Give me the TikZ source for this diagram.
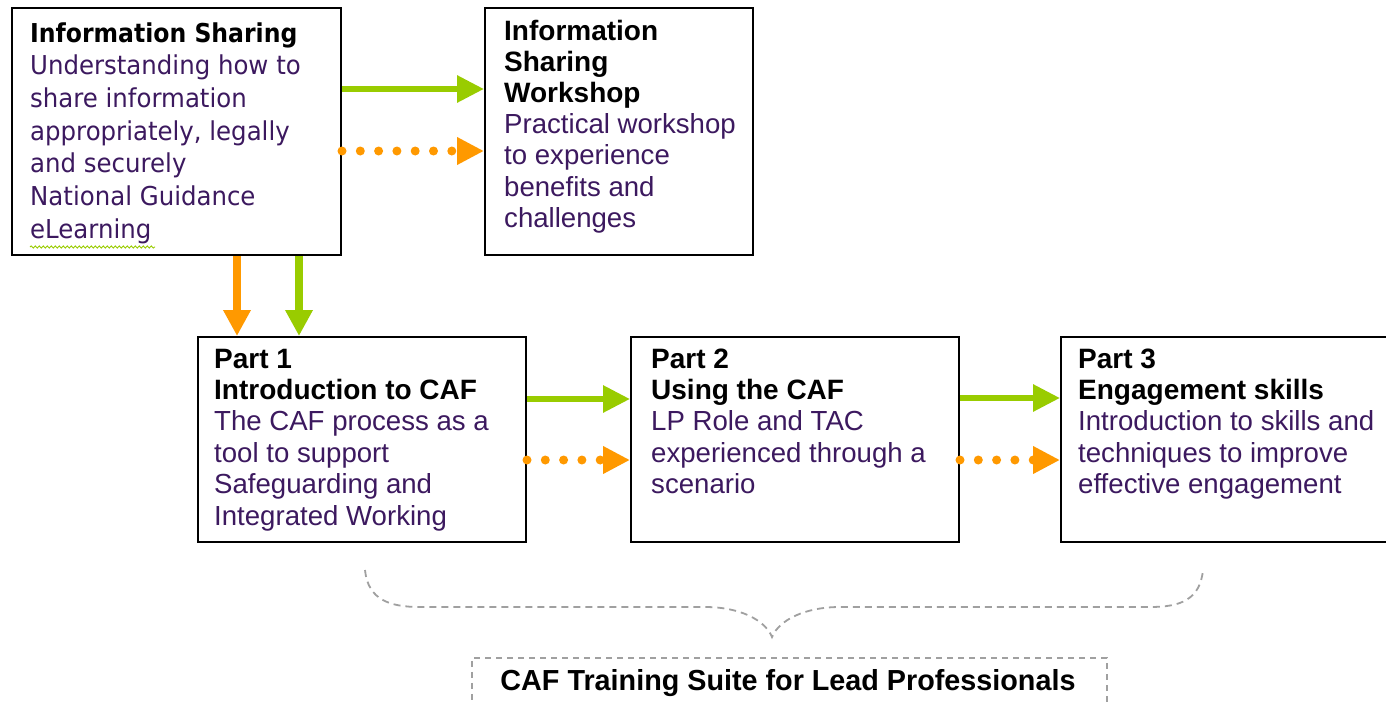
\documentclass[tikz,border=0pt]{standalone}
\usepackage{fontspec}
\setmainfont{Liberation Sans}
\newfontfamily\tahoma[FakeStretch=0.94,BoldFeatures={FakeStretch=0.905}]{DejaVu Sans}
\usetikzlibrary{arrows.meta,decorations.pathmorphing}
\definecolor{cafgreen}{RGB}{153,204,0}
\definecolor{caforange}{RGB}{255,153,0}
\definecolor{bodytxt}{RGB}{60,25,95}
\definecolor{bracegray}{RGB}{160,160,160}
\tikzset{
  box/.style={draw=black, line width=2pt, anchor=north west, inner sep=0pt},
  txt/.style={anchor=base west, inner sep=0pt},
  garrow/.style={draw=cafgreen, line width=6pt, -{Triangle[width=26pt,length=27pt,fill=cafgreen]}},
  gdown/.style={draw=cafgreen, line width=8pt, -{Triangle[width=26pt,length=26pt,fill=cafgreen]}},
  odown/.style={draw=caforange, line width=8pt, -{Triangle[width=26pt,length=26pt,fill=caforange]}},
  oarrow/.style={draw=caforange, line width=9pt, line cap=round, dash pattern=on 0pt off 18.3pt, -{Triangle[width=26pt,length=27pt,fill=caforange]}},
  graydash/.style={draw=bracegray, line width=1.8pt, dash pattern=on 7pt off 5pt},
}
\newcommand{\armed}{\fontsize{28}{31.4}\selectfont}
\newcommand{\armbody}{\fontsize{27.6}{31.4}\selectfont}
\begin{document}
\begin{tikzpicture}[x=1pt,y=-1pt]
\useasboundingbox (0,0) rectangle (1386,704);
\fill[white] (0,0) rectangle (1386,704);

% boxes
\node[box, minimum width=329pt, minimum height=247pt] (b1) at (11,7) {};
\node[box, minimum width=268pt, minimum height=247pt] (b2) at (484,7) {};
\node[box, minimum width=328pt, minimum height=205pt] (p1) at (197,336) {};
\node[box, minimum width=328pt, minimum height=205pt] (p2) at (630,336) {};
\node[box, minimum width=335pt, minimum height=205pt] (p3) at (1060,336) {};

% texts
\node[txt] (t1) at (30,42) {\parbox[t]{310pt}{\raggedright\tahoma\fontsize{26}{32.7}\selectfont
  \textbf{Information Sharing}\\
  \color{bodytxt}Understanding how to\\share information\\appropriately, legally\\and securely\\National Guidance\\eLearning}};
\node[txt] (t2) at (504,40) {\parbox[t]{250pt}{\raggedright\armed\baselineskip=31.2pt
  \textbf{Information\\Sharing\\Workshop}\\
  \armbody\baselineskip=31.2pt\color{bodytxt}Practical workshop\\to experience\\benefits and\\challenges}};
\node[txt] (tp1) at (214,368) {\parbox[t]{310pt}{\raggedright\armed
  \textbf{Part 1\\Introduction to CAF}\\
  \armbody\color{bodytxt}The CAF process as a\\tool to support\\Safeguarding and\\Integrated Working}};
\node[txt] (tp2) at (651,368) {\parbox[t]{310pt}{\raggedright\armed
  \textbf{Part 2\\Using the CAF}\\
  \armbody\color{bodytxt}LP Role and TAC\\experienced through a\\scenario}};
\node[txt] (tp3) at (1078,368) {\parbox[t]{310pt}{\raggedright\armed
  \textbf{Part 3\\Engagement skills}\\
  \armbody\color{bodytxt}Introduction to skills and\\techniques to improve\\effective engagement}};

% spell-check squiggle under eLearning
\draw[cafgreen, line width=0.9pt, decorate, decoration={snake, amplitude=1.1pt, segment length=4pt}] (30,247) -- (155,247);

% connectors
\draw[garrow] (b1.east |- 0,89) -- (b2.west |- 0,89);
\draw[oarrow] (b1.east |- 0,151) -- (b2.west |- 0,151);
\draw[odown] (b1.south -| 237,0) -- (p1.north -| 237,0);
\draw[gdown] (b1.south -| 299,0) -- (p1.north -| 299,0);
\draw[garrow] (p1.east |- 0,399) -- (p2.west |- 0,399);
\draw[oarrow] (p1.east |- 0,460) -- (p2.west |- 0,460);
\draw[garrow] (p2.east |- 0,398) -- (p3.west |- 0,398);
\draw[oarrow] (p2.east |- 0,460) -- (p3.west |- 0,460);

% brace
\draw[graydash] (365,570) .. controls (368,600) and (390,607) .. (420,607)
  -- (705,607) .. controls (740,607) and (765,620) .. (772,637)
  .. controls (779,620) and (805,607) .. (840,607)
  -- (1150,607) .. controls (1180,607) and (1200,600) .. (1203,570);

% bottom box
\node[draw=bracegray, line width=1.5pt, dash pattern=on 6pt off 5pt, anchor=north west, inner sep=0pt,
      minimum width=635pt, minimum height=80pt] (suite) at (471,657) {};
\node[anchor=base, inner sep=0pt] (suitetxt) at (788,690)
  {\resizebox{575pt}{\height}{\fontsize{29}{30}\selectfont\bfseries CAF Training Suite for Lead Professionals}};
\end{tikzpicture}
\end{document}
